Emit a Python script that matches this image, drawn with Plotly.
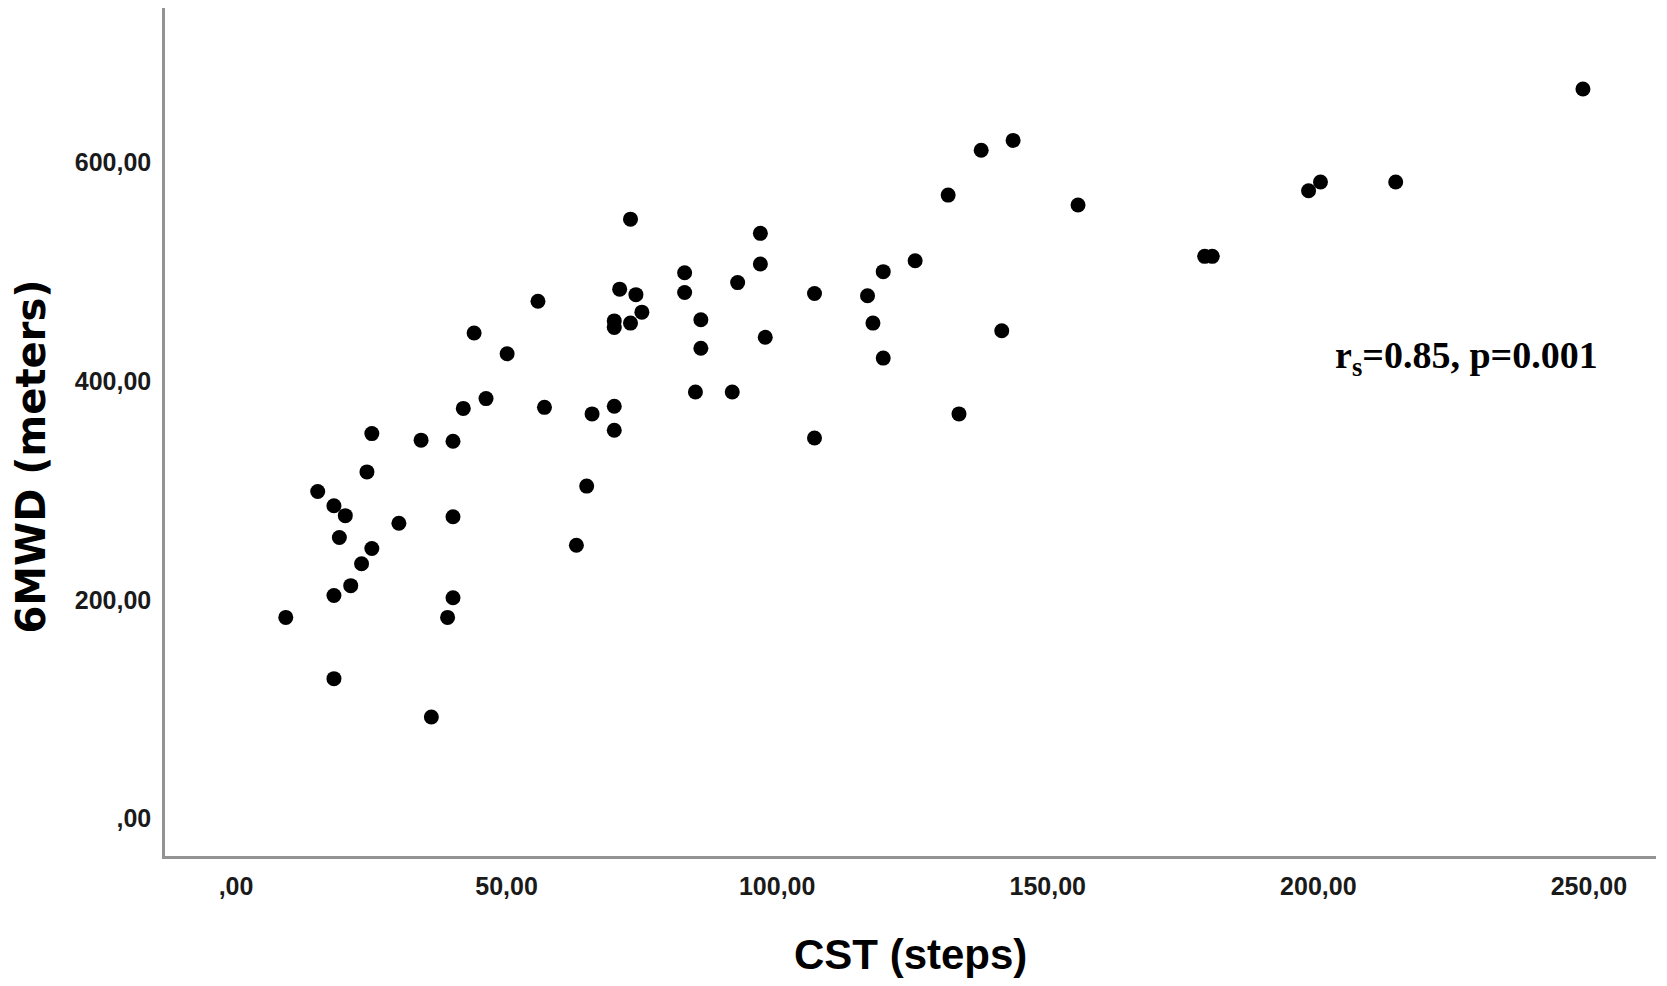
import plotly.graph_objects as go

# CST (steps) values
cst_steps = [
    9.2, 15.1, 18.1, 20.2, 19.1, 18.1, 21.2, 23.2, 25.1, 24.2,
    25.1, 18.1, 30.1, 34.2, 36.1, 39.1, 40.1, 40.1, 40.1, 42.0,
    44.0, 46.2, 50.1, 55.8, 57.0, 62.9, 64.8, 65.8, 69.9, 69.9,
    69.9, 69.9, 70.9, 72.9, 72.9, 73.9, 75.0, 82.9, 82.9, 84.9,
    85.9, 85.9, 91.7, 92.7, 96.9, 96.9, 97.8, 106.9, 106.9, 116.7,
    117.7, 119.6, 119.6, 125.5, 131.6, 133.6, 137.7, 141.5, 143.6, 155.6,
    179.0, 180.4, 198.2, 200.4, 214.3, 248.9,
]
# 6MWD (meters) values
mwd_meters = [
    184, 299, 286, 277, 257, 204, 213, 233, 247, 317,
    352, 128, 270, 346, 93, 184, 202, 276, 345, 375,
    444, 384, 425, 473, 376, 250, 304, 370, 377, 355,
    455, 449, 484, 548, 453, 479, 463, 499, 481, 390,
    456, 430, 390, 490, 535, 507, 440, 480, 348, 478,
    453, 500, 421, 510, 570, 370, 611, 446, 620, 561,
    514, 514, 574, 582, 582, 667,
]

x_tick_vals = [0, 50, 100, 150, 200, 250]
x_tick_text = [",00", "50,00", "100,00", "150,00", "200,00", "250,00"]
y_tick_vals = [0, 200, 400, 600]
y_tick_text = [",00", "200,00", "400,00", "600,00"]

x_title = "CST (steps)"
y_title = "6MWD (meters)"
stat_text = "r<sub>s</sub>=0.85, p=0.001"

fig = go.Figure()
fig.add_trace(go.Scatter(
    x=cst_steps, y=mwd_meters, mode="markers",
    marker=dict(size=15, color="black", line=dict(width=0)),
    showlegend=False, hoverinfo="x+y",
))

tick_font = dict(family="Liberation Sans, Arial, sans-serif", size=25,
                 color="#1a1a1a", weight="bold")

# page body adds an 8px offset, so the figure is 8px smaller than the window
fig.update_layout(
    width=1659, height=978,
    margin=dict(l=157, r=11, t=0, b=130, autoexpand=False),
    paper_bgcolor="white", plot_bgcolor="white",
    xaxis=dict(
        range=[-13.12, 262.4], showgrid=False, zeroline=False,
        showline=True, linecolor="#939393", linewidth=2.5,
        ticks="", tickvals=x_tick_vals, ticktext=x_tick_text,
        tickfont=tick_font, ticklabelstandoff=6,
    ),
    yaxis=dict(
        range=[-34.1, 741.0], showgrid=False, zeroline=False,
        showline=True, linecolor="#939393", linewidth=2.5,
        ticks="", tickvals=y_tick_vals, ticktext=y_tick_text,
        tickfont=tick_font, ticklabelstandoff=6,
    ),
    font=dict(family="Liberation Sans, Arial, sans-serif", color="black"),
)

fig.add_annotation(
    text="<b>" + x_title + "</b>", xref="paper", yref="paper",
    x=0.5, y=-0.116, xanchor="center", yanchor="middle", showarrow=False,
    font=dict(family="Liberation Sans, Arial, sans-serif", size=42, color="black"),
)
fig.add_annotation(
    text="<b>" + y_title + "</b>", xref="paper", yref="paper",
    x=-0.0905, y=0.4711, xanchor="center", yanchor="middle", showarrow=False,
    textangle=-90, borderpad=0,
    font=dict(family="DejaVu Sans, sans-serif", size=40, color="black"),
)
fig.add_annotation(
    text="<b>" + stat_text + "</b>", xref="x", yref="y",
    x=227.3, y=421, xanchor="center", yanchor="middle", showarrow=False,
    font=dict(family="Liberation Serif, Times New Roman, serif", size=38, color="black"),
)

fig.write_html("out.html")
